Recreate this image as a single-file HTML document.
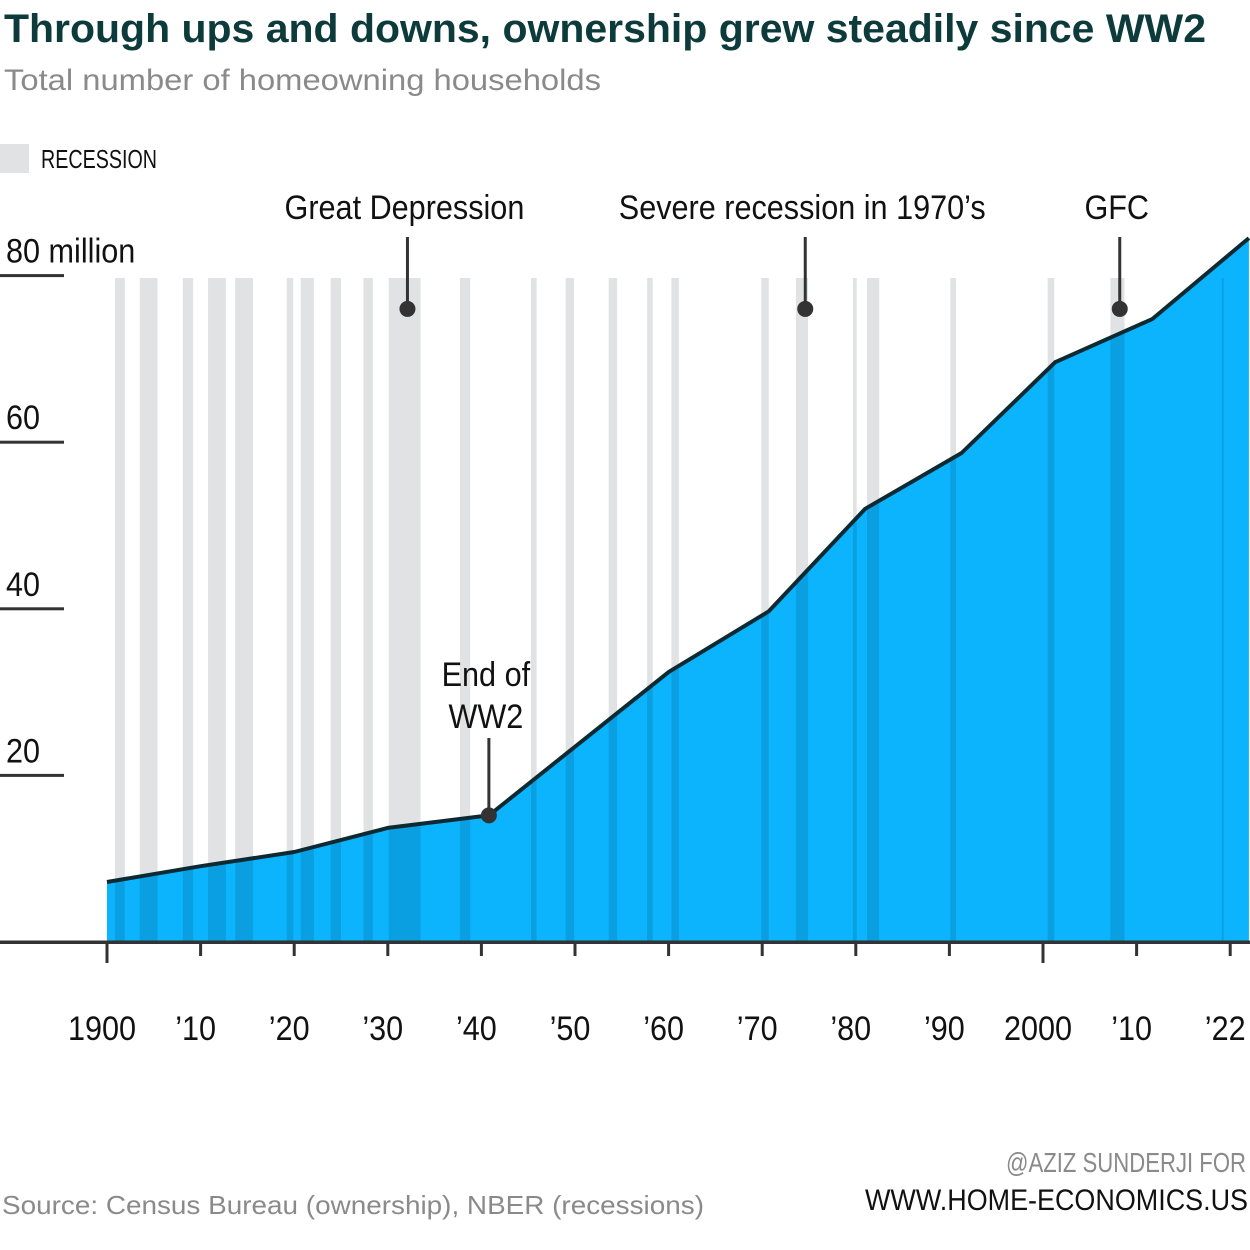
<!DOCTYPE html>
<html><head><meta charset="utf-8"><style>
html,body{margin:0;padding:0;background:#fff}
svg{display:block}
text{font-family:"Liberation Sans Narrow","Liberation Sans",sans-serif}
</style></head><body>
<svg id="chart" width="1250" height="1250" viewBox="0 0 1250 1250" xmlns="http://www.w3.org/2000/svg">
<defs><clipPath id="areaClip"><path id="clipPath"/></clipPath></defs>
<text x="4" y="42" font-size="40" font-weight="bold" fill="#0d3b3b" textLength="1202" lengthAdjust="spacingAndGlyphs" style="font-family:'Liberation Sans',sans-serif">Through ups and downs, ownership grew steadily since WW2</text>
<text x="4" y="90" font-size="30" fill="#8a8a8a" textLength="597" lengthAdjust="spacingAndGlyphs" style="font-family:'Liberation Sans',sans-serif">Total number of homeowning households</text>
<rect x="0" y="144" width="29" height="29" fill="#e1e2e4"/>
<text x="41" y="168" font-size="26" fill="#111" textLength="116" lengthAdjust="spacingAndGlyphs">RECESSION</text>
<g id="bands"></g>
<path id="area" fill="#0bb4fd"/>
<g id="bandsOver" clip-path="url(#areaClip)"></g>
<path id="line" fill="none" stroke="#0d2a33" stroke-width="4" stroke-linejoin="round"/>
<g id="yaxis"></g>
<g id="xaxis"></g>
<g id="annos"></g>
<text x="2" y="1214" font-size="26" fill="#8a8a8a" textLength="702" lengthAdjust="spacingAndGlyphs" style="font-family:'Liberation Sans',sans-serif">Source: Census Bureau (ownership), NBER (recessions)</text>
<text x="1246" y="1172" font-size="28" fill="#8a8a8a" text-anchor="end" textLength="240" lengthAdjust="spacingAndGlyphs">@AZIZ SUNDERJI FOR</text>
<text x="1248" y="1210" font-size="30" fill="#111" text-anchor="end" textLength="383" lengthAdjust="spacingAndGlyphs">WWW.HOME-ECONOMICS.US</text>
</svg>
<script>
const years = [1900, 1910, 1920, 1930, 1940.8, 1960, 1970.7, 1981, 1991.3, 2001.3, 2011.7, 2022];
const owners = [7.2, 9.1, 10.8, 13.7, 15.2, 32.4, 39.7, 52.0, 58.7, 69.6, 74.8, 84.5];
const recStart = [1900.85,1903.5,1908.1,1910.8,1913.7,1919.2,1920.7,1923.9,1927.4,1930.1,1937.7,1945.3,1949,1953.6,1957.7,1960.3,1969.9,1973.6,1979.7,1981.2,1990.1,2000.5,2007.2,2019.1];
const recEnd = [1901.9,1905.4,1909.2,1912.7,1915.6,1919.9,1922.1,1925,1928.4,1933.5,1938.8,1945.9,1949.9,1954.5,1958.3,1961.1,1970.7,1974.9,1980.1,1982.5,1990.7,2001.2,2008.7,2019.3];
const xTickYears = [1900,1910,1920,1930,1940,1950,1960,1970,1980,1990,2000,2010,2020];
const xTickLabels = ["1900","\u201910","\u201920","\u201930","\u201940","\u201950","\u201960","\u201970","\u201980","\u201990","2000","\u201910","\u201922"];
const yTicks = [20,40,60,80];
const yTickLabels = ["20","40","60","80 million"];
const annoYears = [1932.1, 1940.8, 1974.6, 2008.2];
const annoValues = [76, 15.2, 76, 76];
const annoLabels = [["Great Depression"],["End of","WW2"],["Severe recession in 1970\u2019s"],["GFC"]];

const NS="http://www.w3.org/2000/svg";
const x = y => 107 + (y-1900)*9.36;
const yv = v => 942 - v*8.33;
function mk(tag, attrs, parent){const e=document.createElementNS(NS,tag);for(const k in attrs)e.setAttribute(k,attrs[k]);parent.appendChild(e);return e;}
function narrow(t){const w=t.getComputedTextLength();t.setAttribute('textLength',(w*0.9).toFixed(1));t.setAttribute('lengthAdjust','spacingAndGlyphs');}

const bands=document.getElementById('bands'), over=document.getElementById('bandsOver');
recStart.forEach((s,i)=>{
  const r=mk('rect',{x:x(s),y:278,width:x(recEnd[i])-x(s),height:664,fill:'#e1e2e4'},bands);
  
  
  const r2=mk('rect',{x:x(s),y:278,width:x(recEnd[i])-x(s),height:664,fill:'#0a9fe0'},over);
  
  
});
let d='M'+years.map((yr,i)=>x(yr).toFixed(1)+','+yv(owners[i]).toFixed(1)).join(' L');
const ad=d+' L'+x(years[years.length-1])+',942 L'+x(years[0])+',942 Z';
document.getElementById('area').setAttribute('d',ad);
document.getElementById('clipPath').setAttribute('d',ad);
document.getElementById('line').setAttribute('d',d);

const ya=document.getElementById('yaxis');
yTicks.forEach((v,i)=>{
  const l=mk('rect',{x:0,y:yv(v)-1.5,width:64,height:3,fill:'#333'},ya);
  
  
  const t=mk('text',{x:6,y:yv(v)-13,'font-size':34,fill:'#111'},ya);
  t.textContent=yTickLabels[i];
  
  
  narrow(t);
});
const xa=document.getElementById('xaxis');
const base=mk('rect',{x:0,y:940.5,width:1250,height:3.5,fill:'#333'},xa);


xTickYears.forEach((yr,i)=>{
  const long=(yr===1900||yr===2000);
  const tk=mk('rect',{x:x(yr)-1.5,y:942,width:3,height:long?21:14,fill:'#333'},xa);
  
  
  const t=mk('text',{x:x(yr)-5,y:1040,'font-size':34,fill:'#111','text-anchor':'middle'},xa);
  t.textContent=xTickLabels[i];
  
  
  narrow(t);
});
const an=document.getElementById('annos');
annoYears.forEach((yr,i)=>{
  const px=x(yr), py=yv(annoValues[i]);
  const lines=annoLabels[i];
  const top = lines.length>1 ? 738 : 237;
  const l=mk('line',{x1:px,y1:top,x2:px,y2:py,stroke:'#333','stroke-width':3},an);
  
  
  const c=mk('circle',{cx:px,cy:py,r:8,fill:'#333'},an);
  
  
  lines.forEach((s,j)=>{
    const by = lines.length>1 ? 686+j*42 : 219;
    const t=mk('text',{x:px-3,y:by,'font-size':34,fill:'#111','text-anchor':'middle'},an);
    t.textContent=s;
    
    
    narrow(t);
  });
});
</script>
</body></html>
